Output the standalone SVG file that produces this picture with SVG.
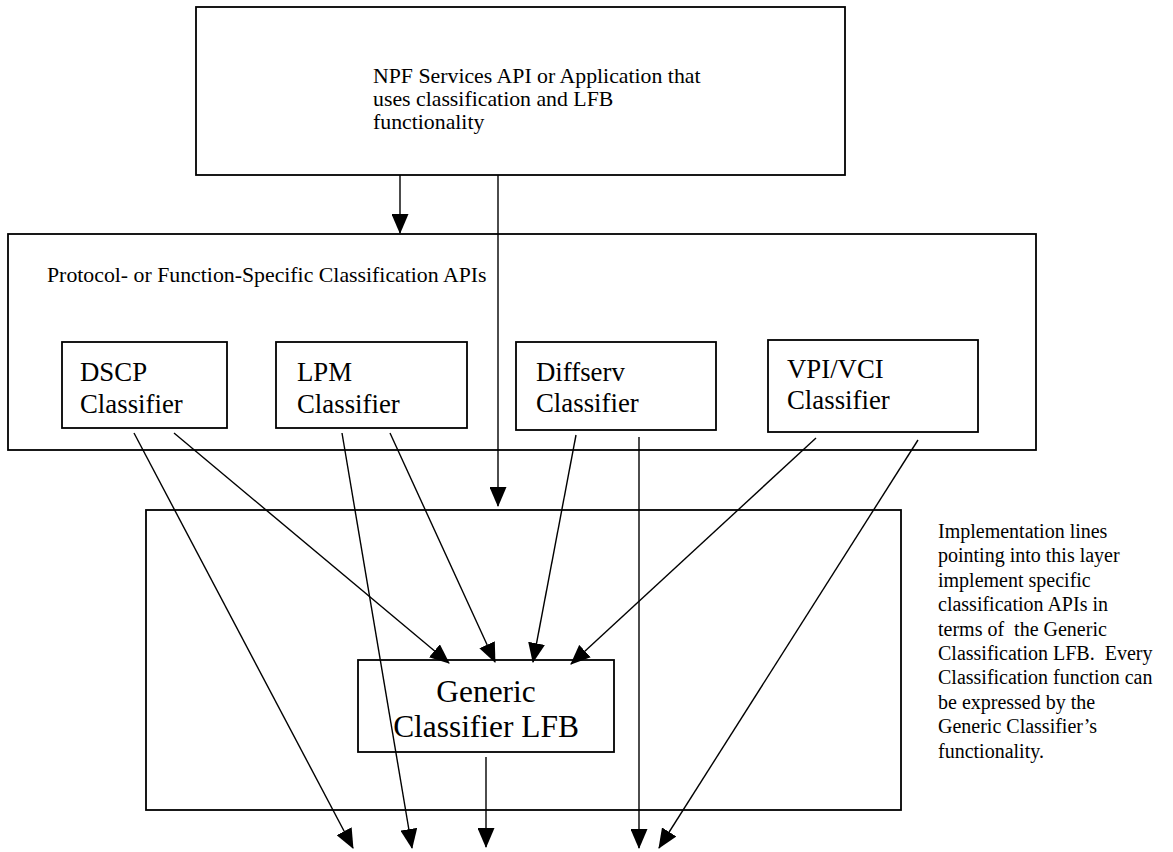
<svg xmlns="http://www.w3.org/2000/svg" width="1173" height="852" viewBox="0 0 1173 852">
<style>
.box{fill:#fff;stroke:#000;stroke-width:1.8}
.con{stroke:#000;stroke-width:1.4;fill:none;marker-end:url(#ah)}
.t{font-family:"Liberation Serif",serif;fill:#000}
.s{font-size:21.8px}
.n{font-size:20px}
.m{font-size:26.8px}
.l{font-size:31.4px}
</style>
<defs>
<marker id="ah" markerUnits="userSpaceOnUse" markerWidth="20" markerHeight="17" refX="19" refY="8.5" orient="auto">
<path d="M0,0 L20,8.5 L0,17 Z" fill="#000"/>
</marker>
</defs>
<rect width="1173" height="852" fill="#fff"/>
<g id="top">
<rect class="box" x="196" y="7" width="649" height="168"/>
<text class="t s" x="373" y="83">NPF Services API or Application that</text>
<text class="t s" x="373" y="106">uses classification and LFB</text>
<text class="t s" x="373" y="129">functionality</text>
</g>
<g id="middle">
<rect class="box" x="8" y="234" width="1028" height="216"/>
<text class="t s" x="47" y="282">Protocol- or Function-Specific Classification APIs</text>
</g>
<g id="dscp">
<rect class="box" x="62" y="342" width="165" height="86"/>
<text class="t m" x="80" y="381">DSCP</text>
<text class="t m" x="80" y="413">Classifier</text>
</g>
<g id="lpm">
<rect class="box" x="276" y="342" width="191" height="86"/>
<text class="t m" x="297" y="381">LPM</text>
<text class="t m" x="297" y="413">Classifier</text>
</g>
<g id="diffserv">
<rect class="box" x="516" y="342" width="200" height="88"/>
<text class="t m" x="536" y="381">Diffserv</text>
<text class="t m" x="536" y="412">Classifier</text>
</g>
<g id="vpivci">
<rect class="box" x="768" y="340" width="210" height="92"/>
<text class="t m" x="787" y="378">VPI/VCI</text>
<text class="t m" x="787" y="409">Classifier</text>
</g>
<g id="bottom">
<rect class="box" x="146" y="510" width="755" height="300"/>
</g>
<g id="generic">
<rect class="box" x="358" y="660" width="256" height="92"/>
<text class="t l" x="486" y="702" text-anchor="middle">Generic</text>
<text class="t l" x="486" y="737" text-anchor="middle">Classifier LFB</text>
</g>
<g id="note">
<text class="t n" x="938" y="538">Implementation lines</text>
<text class="t n" x="938" y="562">pointing into this layer</text>
<text class="t n" x="938" y="587">implement specific</text>
<text class="t n" x="938" y="611">classification APIs in</text>
<text class="t n" x="938" y="636" xml:space="preserve">terms of  the Generic</text>
<text class="t n" x="938" y="660" xml:space="preserve">Classification LFB.  Every</text>
<text class="t n" x="938" y="684">Classification function can</text>
<text class="t n" x="938" y="709">be expressed by the</text>
<text class="t n" x="938" y="733">Generic Classifier’s</text>
<text class="t n" x="938" y="758">functionality.</text>
</g>
<g id="connectors">
<line class="con" x1="400" y1="175" x2="400" y2="233"/>
<line class="con" x1="498" y1="175" x2="498" y2="506"/>
<line class="con" x1="134" y1="433" x2="353" y2="848"/>
<line class="con" x1="174" y1="433" x2="449" y2="663"/>
<line class="con" x1="342" y1="433" x2="412" y2="848"/>
<line class="con" x1="390" y1="433" x2="495" y2="662"/>
<line class="con" x1="576" y1="435" x2="533" y2="662"/>
<line class="con" x1="639" y1="437" x2="639" y2="848"/>
<line class="con" x1="816" y1="438" x2="571" y2="664"/>
<line class="con" x1="918" y1="440" x2="659" y2="848"/>
<line class="con" x1="486" y1="757" x2="486" y2="847"/>
</g>
</svg>
